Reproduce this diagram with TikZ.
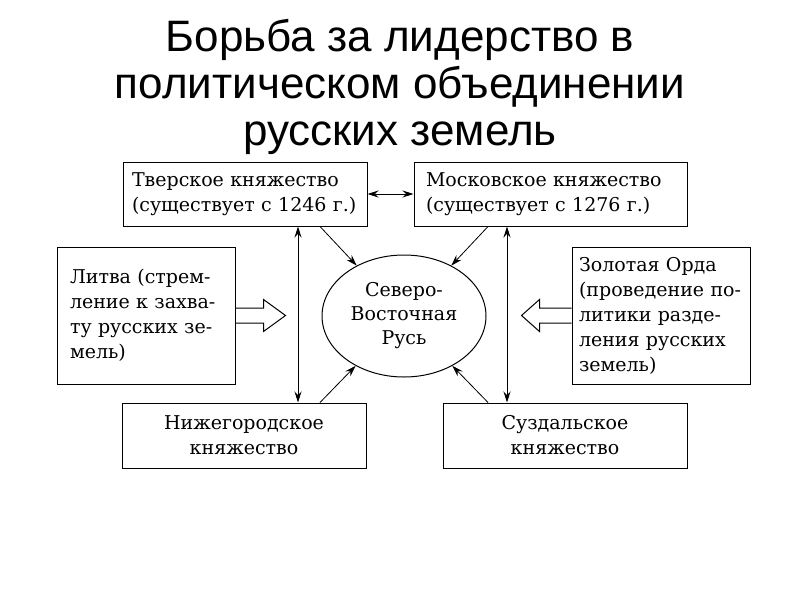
\documentclass[tikz,border=0pt]{standalone}
\usepackage{fontspec}
\setmainfont{DejaVu Serif}
\newfontfamily\titlefont{Liberation Sans}
\usetikzlibrary{shapes,positioning,arrows.meta}
\tikzset{princbox/.style={draw,rectangle,line width=1pt,inner ysep=0pt,font=\fontsize{19}{25}\selectfont}}
\tikzset{arr/.style={-{Stealth[length=11pt,width=7pt]},line width=0.8pt}}
\tikzset{dblarr/.style={{Stealth[length=11pt,width=7pt]}-{Stealth[length=11pt,width=7pt]},line width=0.8pt}}
\tikzset{blockarr/.style={draw,line width=1pt,line join=miter}}

\begin{document}
\begin{tikzpicture}[x=1pt,y=-1pt]
        \useasboundingbox (0,0) rectangle (800,600);
        \tikzstyle{every ellipse node}=[draw,line width=1pt,inner sep=0pt,align=center,font=\fontsize{19}{24}\selectfont];
        \node[font=\titlefont\fontsize{44}{47}\selectfont,align=center] (title) at (400,87) {Борьба за лидерство в\\политическом объединении\\русских земель};

        \node[ellipse,minimum width=164pt,minimum height=122pt] (rus) at (404,316) {Северо-\\Восточная\\Русь};

        \node[princbox,minimum width=244pt,minimum height=64pt,inner xsep=9pt,text width=226pt,align=left] (tver) at (245,194) {Тверское княжество\\(существует с 1246 г.)};
        \node[princbox,minimum width=273pt,minimum height=64pt,inner xsep=12pt,text width=249pt,align=left,right=46pt of tver] (mosc) {Московское княжество\\(существует с 1276 г.)};

        \node[princbox,minimum width=178pt,minimum height=137pt,inner xsep=13pt,text width=152pt,align=left] (litva) at (146,315.5) {Литва (стрем-\\ление к захва-\\ту русских зе-\\мель)};
        \node[princbox,minimum width=178pt,minimum height=137pt,inner xsep=7pt,text width=164pt,align=left] (horde) at (661,315.5) {Золотая Орда\\(проведение по-\\литики разде-\\ления русских\\земель)};

        \node[princbox,minimum width=244pt,minimum height=65pt,align=center] (nizh) at (244,435.5) {Нижегородское\\княжество};
        \node[princbox,minimum width=244pt,minimum height=65pt,align=center,right=76pt of nizh] (suzd) {Суздальское\\княжество};

        \coordinate (lx) at (298,0);
        \coordinate (rx) at (507,0);
        \coordinate (dl) at (320,0);
        \coordinate (dr) at (488,0);

        \draw[dblarr] (tver) -- (mosc);
        \draw[dblarr] (tver.south -| lx) -- (nizh.north -| lx);
        \draw[dblarr] (mosc.south -| rx) -- (suzd.north -| rx);

        \draw[arr] (tver.south -| dl) -- (rus);
        \draw[arr] (mosc.south -| dr) -- (rus);
        \draw[arr] (nizh.north -| dl) -- (rus);
        \draw[arr] (suzd.north -| dr) -- (rus);

        % hollow arrows
        \draw[blockarr] (litva.east) ++(0,-7.5) -- ++(28,0) -- ++(0,-8.5) -- ++(22,16) -- ++(-22,16) -- ++(0,-8.5) -- ++(-28,0);
        \draw[blockarr] (horde.west) ++(0,-7.5) -- ++(-32,0) -- ++(0,-8.5) -- ++(-18,16) -- ++(18,16) -- ++(0,-8.5) -- ++(32,0);
    \end{tikzpicture}
\end{document}
